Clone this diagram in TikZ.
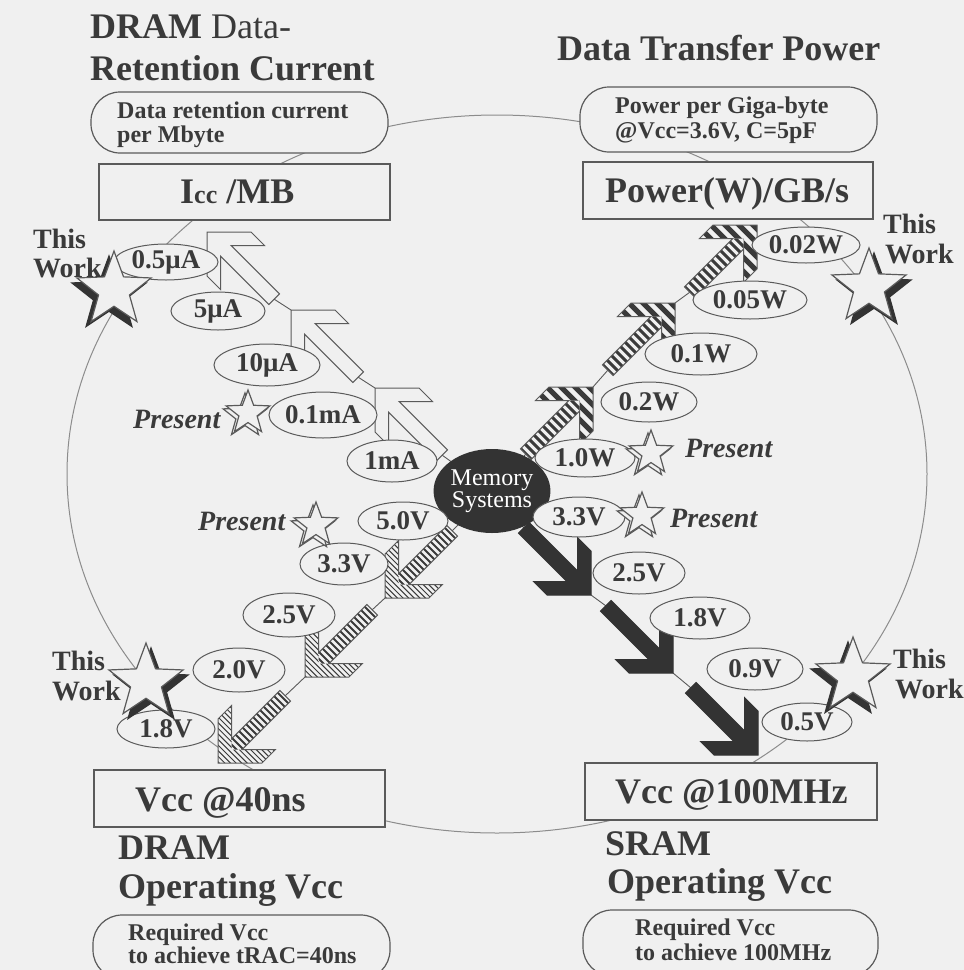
\documentclass[tikz,border=0pt]{standalone}
\usepackage{fontspec}
\setmainfont{Liberation Serif}
\usetikzlibrary{shapes.geometric}
\definecolor{bg}{HTML}{F0F0F0}
\definecolor{ink}{HTML}{3A3A3A}
\definecolor{edge}{HTML}{5A5A5A}
\definecolor{thinl}{HTML}{8C8C8C}
\definecolor{darkfill}{HTML}{333333}

\newcommand\myarrowpoly{(0,0) -- (-44,0) -- (-57.5,13.5) -- (-24.1,13.5) -- (-72.5,61.9) -- (-61.9,72.5) -- (-13.5,24.1) -- (-13.5,57.5) -- (0,44) -- cycle}
\newcommand\myheadpoly{(0,0) -- (-44,0) -- (-57.5,13.5) -- (-13.5,13.5) -- (-13.5,57.5) -- (0,44) -- cycle}
\newcommand\myshaftpoly{(-13.5,13.5) -- (-24.1,13.5) -- (-72.5,61.9) -- (-61.9,72.5) -- (-13.5,24.1) -- cycle}

\tikzset{
  pics/whitearrow/.style={code={\draw[edge, line width=1pt, fill=bg] \myarrowpoly;}},
  pics/darkarrow/.style={code={\draw[darkfill, line width=1pt, fill=darkfill] \myarrowpoly;}},
  pics/hatcharrowA/.style={code={
    \fill[bg] \myarrowpoly;
    \begin{scope}\clip \myheadpoly;
      \foreach \k in {-10,4,...,170} \draw[ink, line width=5pt] (-120,-120+\k) -- (120,120+\k);
    \end{scope}
    \begin{scope}\clip \myshaftpoly;
      \foreach \k in {-10,-1,...,170} \draw[ink, line width=3pt] (-120,-120+\k) -- (120,120+\k);
    \end{scope}
    \draw[edge, line width=1pt] \myarrowpoly;}},
  pics/hatcharrowB/.style={code={
    \fill[bg] \myarrowpoly;
    \begin{scope}\clip \myheadpoly;
      \foreach \k in {-10,-4.4,...,170} \draw[ink, line width=1pt] (-120,-120+\k) -- (120,120+\k);
    \end{scope}
    \begin{scope}\clip \myshaftpoly;
      \foreach \k in {-10,-3,...,170} \draw[ink, line width=1.8pt] (-120,-120+\k) -- (120,120+\k);
    \end{scope}
    \draw[edge, line width=1pt] \myarrowpoly;}},
  chain/.style={edge, line width=0.9pt},
  lab/.style={ellipse, draw=edge, line width=1pt, fill=bg, inner sep=0pt, text=ink,
    font=\fontsize{27}{27}\selectfont\bfseries},
  rectbox/.style={rectangle, draw=edge, line width=1.2pt, fill=bg, inner sep=0pt},
  roundbox/.style={rectangle, rounded corners=29pt, draw=edge, line width=1.2pt, fill=bg, inner sep=0pt},
  ttl/.style={inner sep=0pt, anchor=base west, text=ink, font=\fontsize{36}{40}\selectfont\bfseries},
  boxtxt/.style={inner sep=0pt, anchor=base west, text=ink, font=\fontsize{24}{24}\selectfont\bfseries},
  sidetxt/.style={inner sep=0pt, anchor=base west, text=ink, font=\fontsize{28}{28}\selectfont\bfseries},
  prestxt/.style={inner sep=0pt, anchor=base west, text=ink, font=\fontsize{28}{28}\selectfont\bfseries\itshape},
  starP/.style={star, star points=5, star point ratio=2.4, minimum size=46pt, inner sep=0pt,
    draw=edge, line width=1.2pt, fill=bg},
  starW/.style={star, star points=5, star point ratio=2.4, minimum size=78pt, inner sep=0pt,
    draw=edge, line width=1.2pt, fill=bg},
  starWsh/.style={starW, draw=darkfill, fill=darkfill},
}

\begin{document}
\begin{tikzpicture}[x=1pt, y=-1pt]
\useasboundingbox (0,0) rectangle (964,970);
\clip (0,0) rectangle (964,970);
\fill[bg] (0,0) rectangle (964,970);

% big thin ring
\node[ellipse, draw=thinl, line width=1pt, minimum width=860pt, minimum height=718pt, inner sep=0pt] (ring) at (497,474) {};

% memory node (placed first for chain lines)
\node[ellipse, minimum width=100pt, minimum height=84pt, inner sep=0pt] (memc) at (492,491) {};

% chain coordinates
\coordinate (W1tip) at (375,388);   \coordinate (W1tail) at (442.2,455.2);
\coordinate (W2tip) at (291,310);   \coordinate (W2tail) at (358.2,377.2);
\coordinate (W3tip) at (207,232);   \coordinate (W3tail) at (274.2,299.2);
\coordinate (N1tip) at (593,387);   \coordinate (N1tail) at (525.8,454.2);
\coordinate (N2tip) at (675,303);   \coordinate (N2tail) at (607.8,370.2);
\coordinate (N3tip) at (757,225);   \coordinate (N3tail) at (689.8,292.2);
\coordinate (S1tip) at (591,595);   \coordinate (S1tail) at (523.8,527.8);
\coordinate (S2tip) at (673,673);   \coordinate (S2tail) at (605.8,605.8);
\coordinate (S3tip) at (758,755);   \coordinate (S3tail) at (690.8,687.8);
\coordinate (D1tip) at (385,598);   \coordinate (D1tail) at (452.2,530.8);
\coordinate (D2tip) at (305,677);   \coordinate (D2tail) at (372.2,609.8);
\coordinate (D3tip) at (218,763);   \coordinate (D3tail) at (285.2,695.8);

% thin chain lines
\draw[chain] (memc.center) -- (W1tail) (W1tip) -- (W2tail) (W2tip) -- (W3tail);
\draw[chain] (memc.center) -- (N1tail) (N1tip) -- (N2tail) (N2tip) -- (N3tail);
\draw[chain] (memc.center) -- (S1tail) (S1tip) -- (S2tail) (S2tip) -- (S3tail);
\draw[chain] (memc.center) -- (D1tail) (D1tip) -- (D2tail) (D2tip) -- (D3tail);

% arrows
\pic[rotate=90] (aw1) at (W1tip) {whitearrow};
\pic[rotate=90] (aw2) at (W2tip) {whitearrow};
\pic[rotate=90] (aw3) at (W3tip) {whitearrow};
\pic (an1) at (N1tip) {hatcharrowA};
\pic (an2) at (N2tip) {hatcharrowA};
\pic (an3) at (N3tip) {hatcharrowA};
\pic[rotate=-90] (as1) at (S1tip) {darkarrow};
\pic[rotate=-90] (as2) at (S2tip) {darkarrow};
\pic[rotate=-90] (as3) at (S3tip) {darkarrow};
\pic[rotate=180] (ad1) at (D1tip) {hatcharrowB};
\pic[rotate=180] (ad2) at (D2tip) {hatcharrowB};
\pic[rotate=180] (ad3) at (D3tip) {hatcharrowB};

% memory systems
\node[ellipse, minimum width=100pt, minimum height=84pt, inner sep=0pt, fill=darkfill,
  text=white, align=center, font=\fontsize{24}{21}\selectfont] (mem) at (492,491) {Memory\\Systems};

% value labels NW
\node[lab, minimum width=104pt, minimum height=36pt] (v05uA) at (166,262) {0.5μA};
\node[lab, minimum width=94pt, minimum height=38pt] (v5uA) at (218,311) {5μA};
\node[lab, minimum width=106pt, minimum height=42pt] (v10uA) at (267,365) {10μA};
\node[lab, minimum width=108pt, minimum height=46pt] (v01mA) at (323,415) {0.1mA};
\node[lab, minimum width=90pt, minimum height=42pt] (v1mA) at (392,461) {1mA};
% NE
\node[lab, minimum width=108pt, minimum height=36pt] (v002W) at (806,245) {0.02W};
\node[lab, minimum width=114pt, minimum height=38pt] (v005W) at (750,300) {0.05W};
\node[lab, minimum width=112pt, minimum height=42pt] (v01W) at (701,354) {0.1W};
\node[lab, minimum width=96pt, minimum height=40pt] (v02W) at (649,402) {0.2W};
\node[lab, minimum width=100pt, minimum height=38pt] (v10W) at (585,458) {1.0W};
% SE
\node[lab, minimum width=92pt, minimum height=40pt] (s33V) at (579,517) {3.3V};
\node[lab, minimum width=92pt, minimum height=42pt] (s25V) at (639,573) {2.5V};
\node[lab, minimum width=100pt, minimum height=42pt] (s18V) at (700,618) {1.8V};
\node[lab, minimum width=96pt, minimum height=42pt] (s09V) at (755,669) {0.9V};
\node[lab, minimum width=90pt, minimum height=38pt] (s05V) at (807,722) {0.5V};
% SW
\node[lab, minimum width=90pt, minimum height=38pt] (d50V) at (403,521) {5.0V};
\node[lab, minimum width=88pt, minimum height=42pt] (d33V) at (344,564) {3.3V};
\node[lab, minimum width=92pt, minimum height=44pt] (d25V) at (289,615) {2.5V};
\node[lab, minimum width=92pt, minimum height=44pt] (d20V) at (239,670) {2.0V};
\node[lab, minimum width=98pt, minimum height=38pt] (d18V) at (166,729) {1.8V};

% Present stars
\node[starP] (pnw0) at (245,416) {};
\node[starP] (pnw) at (248,413) {};
\node[starP] (pne0) at (648,456) {};
\node[starP] (pne) at (651,453) {};
\node[starP] (pse0) at (639,518) {};
\node[starP] (pse) at (642,515) {};
\node[starP] (psw0) at (313,528) {};
\node[starP] (psw) at (316,525) {};
\node[prestxt] (tpnw) at (133,428) {Present};
\node[prestxt] (tpne) at (685,457) {Present};
\node[prestxt] (tpse) at (670,527) {Present};
\node[prestxt] (tpsw) at (198,530) {Present};

% This Work stars
\node[starWsh] (wnw0) at (109,295) {};
\node[starW] (wnw) at (114,290) {};
\node[starWsh] (wne0) at (874,292) {};
\node[starW] (wne) at (869,287) {};
\node[starWsh] (wsw0) at (151,687) {};
\node[starW] (wsw) at (146,682) {};
\node[starWsh] (wse0) at (848,681) {};
\node[starW] (wse) at (853,676) {};
\node[sidetxt] (twnw1) at (33,248) {This};
\node[sidetxt] (twnw2) at (33,277) {Work};
\node[sidetxt] (twne1) at (883,233) {This};
\node[sidetxt] (twne2) at (885,263) {Work};
\node[sidetxt] (twsw1) at (52,670) {This};
\node[sidetxt] (twsw2) at (52,700) {Work};
\node[sidetxt] (twse1) at (893,668) {This};
\node[sidetxt] (twse2) at (895,698) {Work};

% rectangles
\node[rectbox, minimum width=291pt, minimum height=56pt] (rIcc) at (244.5,192) {};
\node[rectbox, minimum width=290pt, minimum height=57pt] (rPow) at (728,190.5) {};
\node[rectbox, minimum width=291pt, minimum height=57pt] (rV40) at (239.5,798.5) {};
\node[rectbox, minimum width=292pt, minimum height=57pt] (rV100) at (731,791.5) {};
\node[ttl] (tIcc) at (180,203) {I{\fontsize{26}{26}\selectfont cc} /MB};
\node[ttl] (tPow) at (605,202) {Power(W)/GB/s};
\node[ttl] (tV40) at (135,811) {Vcc @40ns};
\node[ttl] (tV100) at (615,803) {Vcc @100MHz};

% rounded boxes
\node[roundbox, minimum width=297pt, minimum height=61pt] (bNW) at (239.5,122.5) {};
\node[roundbox, minimum width=297pt, minimum height=65pt] (bNE) at (728.5,119.5) {};
\node[roundbox, minimum width=297pt, minimum height=64pt] (bSW) at (241.5,947) {};
\node[roundbox, minimum width=295pt, minimum height=66pt] (bSE) at (730.5,943) {};
\node[boxtxt] (tbNW1) at (117,118) {Data retention current};
\node[boxtxt] (tbNW2) at (117,142) {per Mbyte};
\node[boxtxt] (tbNE1) at (615,113) {Power per Giga-byte};
\node[boxtxt] (tbNE2) at (615,138) {@Vcc=3.6V, C=5pF};
\node[boxtxt] (tbSW1) at (128,940) {Required Vcc};
\node[boxtxt] (tbSW2) at (128,963) {to achieve tRAC=40ns};
\node[boxtxt] (tbSE1) at (635,935) {Required Vcc};
\node[boxtxt] (tbSE2) at (635,960) {to achieve 100MHz};

% titles
\node[ttl] (hNW1) at (90,38) {DRAM \mdseries Data-};
\node[ttl] (hNW2) at (90,80) {Retention Current};
\node[ttl] (hNE) at (557,60) {Data Transfer Power};
\node[ttl] (hSW1) at (118,859) {DRAM};
\node[ttl] (hSW2) at (118,898) {Operating Vcc};
\node[ttl] (hSE1) at (605,855) {SRAM};
\node[ttl] (hSE2) at (607,893) {Operating Vcc};
\end{tikzpicture}
\end{document}
